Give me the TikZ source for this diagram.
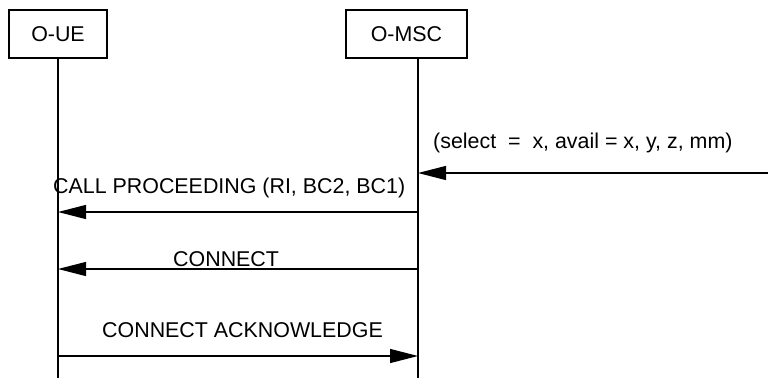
\documentclass[tikz,border=0pt]{standalone}
\usepackage{fontspec}
\setmainfont{Liberation Sans}
\usetikzlibrary{arrows.meta}

\begin{document}
\begin{tikzpicture}[x=1pt, y=-1pt,
    entity/.style={draw, line width=1.3pt, inner sep=0pt, font=\fontsize{21.4}{25}\selectfont},
    msg/.style={line width=1.3pt, -{Triangle[length=28pt, width=14pt]}},
    lbl/.style={inner sep=0pt, anchor=base west, font=\fontsize{21.4}{25}\selectfont}]
    \useasboundingbox (0,0) rectangle (768,378);

    \node[entity, minimum width=98pt, minimum height=48pt] (ue) at (58, 34) {O-UE};
    \node[entity, minimum width=121pt, minimum height=48pt] (msc) at (406.5, 34) {O-MSC};

    \coordinate (ue top) at (58, 58);
    \coordinate (ue end) at (58, 378);
    \coordinate (msc top) at (418, 58);
    \coordinate (msc end) at (418, 378);

    \coordinate (ext) at (768, 173);
    \coordinate (msc0) at (418, 173);
    \coordinate (ue1) at (58, 212);
    \coordinate (msc1) at (418, 212);
    \coordinate (ue2) at (58, 269);
    \coordinate (msc2) at (418, 269);
    \coordinate (ue3) at (58, 356);
    \coordinate (msc3) at (418, 356);

  \draw[line width=1.3pt] (ue top) -- (ue end);
  \draw[line width=1.3pt] (msc top) -- (msc end);

  \draw[msg] (ext) -- (msc0);
  \draw[msg] (msc1) -- (ue1);
  \draw[msg] (msc2) -- (ue2);
  \draw[msg] (ue3) -- (msc3);

    \node[lbl] (sel) at (433, 148) {(select \ = \ x, avail = x, y, z, mm)};
    \node[lbl] (cp) at (53, 193) {CALL PROCEEDING (RI, BC2, BC1)};
    \node[lbl] (con) at (173, 266) {CONNECT};
    \node[lbl] (ack) at (102, 337) {CONNECT ACKNOWLEDGE};
\end{tikzpicture}
\end{document}
